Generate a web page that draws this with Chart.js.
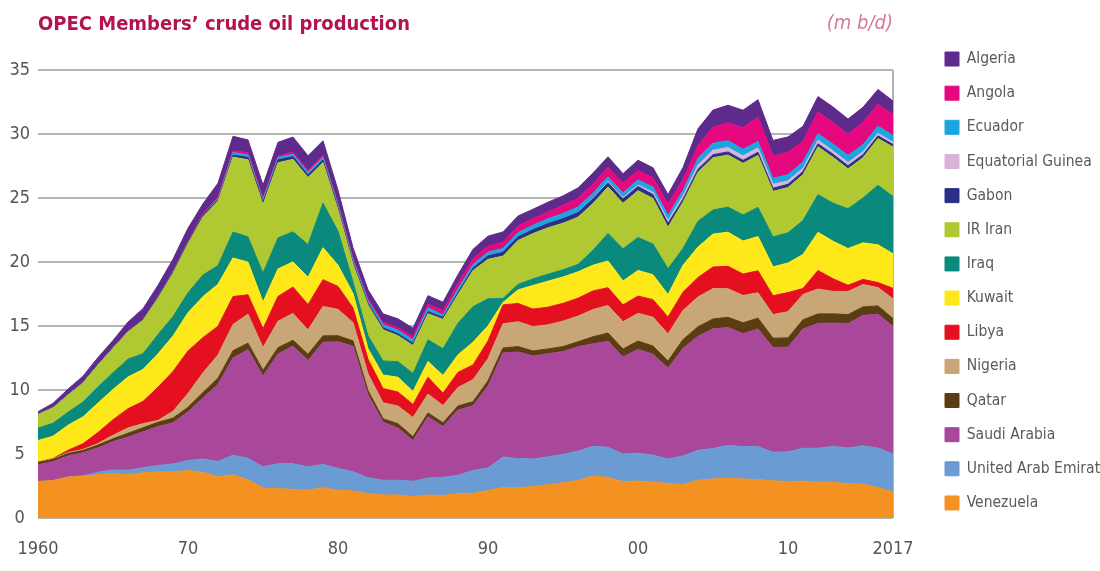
<!DOCTYPE html>
<html>
<head>
<meta charset="utf-8">
<script src="https://cdn.jsdelivr.net/npm/chart.js@4.4.1/dist/chart.umd.min.js"></script>
<style>
  html, body { margin: 0; padding: 0; background: #fff; overflow: hidden; }
  #wrap { position: relative; width: 1100px; height: 571px; }
</style>
</head>
<body>
<div id="wrap"><canvas id="chart"></canvas></div>
<script>
// ---------- DATA (m b/d) ----------
const years = [1960,1961,1962,1963,1964,1965,1966,1967,1968,1969,
               1970,1971,1972,1973,1974,1975,1976,1977,1978,1979,
               1980,1981,1982,1983,1984,1985,1986,1987,1988,1989,
               1990,1991,1992,1993,1994,1995,1996,1997,1998,1999,
               2000,2001,2002,2003,2004,2005,2006,2007,2008,2009,
               2010,2011,2012,2013,2014,2015,2016,2017];

const xTickYears = [1960, 1970, 1980, 1990, 2000, 2010, 2017];
const yTickValues = [0, 5, 10, 15, 20, 25, 30, 35];

const venezuela = [2.85,2.92,3.20,3.25,3.39,3.47,3.37,3.54,3.60,3.59,
                   3.71,3.55,3.22,3.37,2.98,2.35,2.29,2.24,2.17,2.36,
                   2.17,2.11,1.90,1.80,1.80,1.68,1.79,1.75,1.90,1.91,
                   2.14,2.38,2.37,2.45,2.59,2.75,2.94,3.28,3.17,2.83,
                   2.89,2.79,2.70,2.60,2.95,3.05,3.10,3.05,3.00,2.90,
                   2.85,2.88,2.80,2.79,2.68,2.65,2.37,2.04];
const uae = [0.00,0.00,0.01,0.05,0.19,0.28,0.36,0.38,0.50,0.63,
             0.78,1.06,1.20,1.53,1.68,1.66,1.94,2.00,1.83,1.83,
             1.70,1.50,1.25,1.15,1.15,1.19,1.33,1.42,1.44,1.80,
             1.76,2.39,2.27,2.16,2.19,2.23,2.28,2.32,2.35,2.17,
             2.18,2.12,1.90,2.25,2.34,2.38,2.57,2.53,2.57,2.24,
             2.32,2.57,2.65,2.80,2.79,2.99,3.09,2.97];
const saudiArabia = [1.31,1.48,1.64,1.79,1.90,2.21,2.60,2.81,3.04,3.22,
                     3.80,4.77,6.02,7.60,8.48,7.08,8.58,9.20,8.30,9.53,
                     9.90,9.81,6.48,4.54,4.08,3.18,4.78,3.98,5.09,5.06,
                     6.41,8.12,8.33,8.05,8.05,8.02,8.16,8.01,8.28,7.57,
                     8.10,7.89,7.09,8.41,8.90,9.35,9.21,8.82,9.20,8.18,
                     8.17,9.31,9.76,9.64,9.71,10.19,10.46,9.96];
const qatar = [0.18,0.18,0.19,0.19,0.22,0.23,0.29,0.32,0.34,0.36,
               0.36,0.43,0.48,0.57,0.52,0.44,0.50,0.45,0.49,0.51,
               0.47,0.42,0.33,0.27,0.33,0.30,0.31,0.29,0.32,0.32,
               0.41,0.39,0.42,0.39,0.38,0.39,0.39,0.55,0.65,0.63,
               0.65,0.63,0.57,0.68,0.75,0.77,0.80,0.85,0.84,0.73,
               0.73,0.73,0.73,0.72,0.71,0.66,0.65,0.61];
const nigeria = [0.02,0.05,0.07,0.08,0.12,0.27,0.42,0.32,0.14,0.54,
                 1.08,1.53,1.82,2.05,2.26,1.78,2.07,2.09,1.90,2.30,
                 2.06,1.43,1.30,1.24,1.39,1.50,1.47,1.34,1.45,1.72,
                 1.73,1.89,1.94,1.91,1.88,1.99,2.00,2.13,2.15,2.13,
                 2.17,2.26,2.12,2.28,2.33,2.37,2.23,2.14,1.98,1.84,
                 2.05,1.98,1.95,1.75,1.81,1.75,1.43,1.54];
const libya = [0.00,0.02,0.18,0.44,0.86,1.22,1.50,1.74,2.60,3.11,
               3.32,2.76,2.24,2.18,1.52,1.48,1.93,2.06,1.98,2.09,
               1.79,1.14,1.15,1.11,1.09,1.02,1.31,0.97,1.18,1.15,
               1.38,1.48,1.43,1.36,1.38,1.39,1.40,1.45,1.39,1.32,
               1.35,1.37,1.32,1.42,1.52,1.69,1.75,1.67,1.72,1.47,
               1.49,0.46,1.45,0.99,0.48,0.40,0.39,0.82];
const kuwait = [1.69,1.74,1.96,2.10,2.30,2.36,2.48,2.50,2.61,2.77,
                2.99,3.20,3.28,3.02,2.55,2.08,2.15,1.97,2.13,2.50,
                1.66,1.13,0.82,1.06,1.16,1.02,1.24,1.39,1.37,1.78,
                1.18,0.19,1.06,1.85,2.03,2.06,2.06,2.01,2.09,1.87,
                2.00,1.95,1.75,2.11,2.38,2.57,2.67,2.58,2.68,2.26,
                2.31,2.66,2.98,2.93,2.87,2.86,2.95,2.70];
const iraq = [0.97,1.01,1.01,1.16,1.26,1.31,1.39,1.23,1.50,1.52,
              1.55,1.69,1.47,2.02,1.97,2.26,2.42,2.35,2.56,3.48,
              2.65,0.90,1.01,1.10,1.21,1.40,1.69,2.08,2.46,2.78,
              2.11,0.31,0.43,0.51,0.55,0.56,0.58,1.16,2.15,2.51,
              2.57,2.39,2.02,1.31,2.01,1.88,1.96,2.04,2.28,2.34,
              2.36,2.65,2.94,2.98,3.11,3.50,4.65,4.47];
const iran = [1.07,1.20,1.34,1.49,1.71,1.91,2.13,2.60,2.84,3.38,
              3.83,4.54,5.02,5.86,6.02,5.35,5.88,5.66,5.24,3.17,
              1.66,1.38,2.39,2.44,2.03,2.19,2.04,2.30,2.24,2.81,
              3.09,3.31,3.43,3.54,3.62,3.64,3.69,3.66,3.63,3.56,
              3.66,3.57,3.25,3.61,3.83,4.09,4.07,4.03,4.06,3.56,
              3.54,3.58,3.74,3.58,3.12,3.15,3.65,3.87];
const gabon = [0.02,0.02,0.02,0.02,0.02,0.03,0.03,0.07,0.09,0.10,
               0.11,0.12,0.13,0.15,0.20,0.22,0.22,0.22,0.21,0.20,
               0.18,0.15,0.16,0.16,0.16,0.17,0.17,0.16,0.16,0.20,
               0.27,0.30,0.29,0.31,0.34,0.36,0.37,0.37,0.34,0.34,
               0.33,0.30,0.30,0.24,0.24,0.23,0.24,0.23,0.24,0.24,
               0.25,0.25,0.24,0.24,0.24,0.23,0.22,0.20];
const equatorialGuinea = [0,0,0,0,0,0,0,0,0,0,
                          0,0,0,0,0,0,0,0,0,0,
                          0,0,0,0,0,0,0,0,0,0,
                          0.00,0.00,0.001,0.005,0.005,0.005,0.02,0.06,0.08,0.10,
                          0.11,0.18,0.23,0.26,0.33,0.36,0.34,0.35,0.35,0.31,
                          0.27,0.25,0.28,0.26,0.25,0.24,0.20,0.18];
const ecuador = [0.008,0.008,0.007,0.007,0.008,0.008,0.007,0.006,0.005,0.004,
                 0.004,0.004,0.08,0.21,0.18,0.16,0.19,0.18,0.20,0.21,
                 0.20,0.21,0.20,0.24,0.26,0.28,0.29,0.17,0.30,0.28,
                 0.29,0.30,0.32,0.34,0.37,0.39,0.40,0.39,0.38,0.37,
                 0.40,0.41,0.39,0.41,0.53,0.53,0.54,0.51,0.50,0.47,
                 0.48,0.50,0.50,0.53,0.56,0.54,0.55,0.53];
const angola = [0.001,0.001,0.002,0.005,0.006,0.013,0.013,0.011,0.015,0.05,
                0.08,0.11,0.14,0.16,0.17,0.17,0.10,0.19,0.13,0.14,
                0.15,0.13,0.13,0.18,0.20,0.23,0.28,0.36,0.45,0.45,
                0.47,0.49,0.54,0.50,0.54,0.63,0.69,0.71,0.73,0.75,
                0.74,0.73,0.90,0.87,0.99,1.25,1.40,1.69,1.90,1.74,
                1.76,1.62,1.70,1.70,1.65,1.77,1.72,1.63];
const algeria = [0.18,0.33,0.44,0.50,0.56,0.56,0.72,0.83,0.90,0.95,
                 1.03,0.79,1.06,1.10,1.01,0.98,1.08,1.15,1.16,1.15,
                 1.02,0.81,0.71,0.66,0.70,0.67,0.67,0.65,0.65,0.73,
                 0.78,0.80,0.76,0.75,0.75,0.75,0.81,0.85,0.83,0.75,
                 0.80,0.77,0.73,0.94,1.31,1.35,1.37,1.37,1.36,1.22,
                 1.19,1.16,1.20,1.20,1.19,1.16,1.15,1.06];

// Stack order: bottom -> top
const seriesLabels = ['Venezuela','United Arab Emirates','Saudi Arabia','Qatar','Nigeria','Libya',
                      'Kuwait','Iraq','IR Iran','Gabon','Equatorial Guinea','Ecuador','Angola','Algeria'];
const seriesValues = [venezuela, uae, saudiArabia, qatar, nigeria, libya,
                      kuwait, iraq, iran, gabon, equatorialGuinea, ecuador, angola, algeria];

// ---------- STYLE ----------
const seriesColors = ['#f39220','#6a9bd2','#a9479b','#5a3d12','#c9a676','#e4101f',
                      '#ffe81a','#0a8a7c','#b0c932','#28308a','#d9b3d9','#1aa6e0','#e5087f','#5e2a8c'];
const FONT = '"DejaVu Sans Condensed", "Liberation Sans Narrow", sans-serif';
const AXIS_GREY = '#555555';
const LEGEND_GREY = '#5a5a5a';
const GRID_GREY = '#b4b4b4';

const datasets = seriesLabels.map((label, i) => ({
  label,
  data: years.map((yr, j) => ({ x: yr, y: seriesValues[i][j] })),
  backgroundColor: seriesColors[i],
  borderColor: seriesColors[i],
  borderWidth: 1,
  pointRadius: 0,
  pointHoverRadius: 0,
  tension: 0,
  fill: i === 0 ? 'origin' : '-1'
}));

const unitLabel = {
  id: 'unitLabel',
  afterDraw(chart) {
    const { ctx, chartArea } = chart;
    ctx.save();
    ctx.font = 'italic 20px ' + FONT;
    ctx.fillStyle = '#d2789f';
    ctx.textAlign = 'right';
    ctx.textBaseline = 'middle';
    ctx.fillText('(m b/d)', chartArea.right, 24);
    ctx.restore();
  }
};

const legendPlacement = {
  id: 'legendPlacement',
  afterLayout(chart) {
    const lg = chart.legend;
    if (!lg) return;
    const pad = lg.options.labels.padding;
    const dx = (chart.chartArea.right + 52 - pad) - lg.left;
    const dy = -4.5;
    lg.left += dx; lg.right += dx;
    lg.top += dy; lg.bottom += dy;
  }
};

new Chart(document.getElementById('chart'), {
  type: 'line',
  data: { datasets },
  plugins: [unitLabel, legendPlacement],
  options: {
    responsive: true,
    maintainAspectRatio: false,
    animation: false,
    devicePixelRatio: 1,
    events: [],
    layout: { padding: 0 },
    plugins: {
      tooltip: { enabled: false },
      title: {
        display: true,
        text: "OPEC Members\u2019 crude oil production",
        align: 'start',
        fullSize: false,
        color: '#b3134f',
        font: { family: FONT, size: 20, weight: 'bold' },
        padding: { top: 13, bottom: 33 }
      },
      legend: {
        display: true,
        position: 'right',
        align: 'center',
        reverse: true,
        maxWidth: 200,
        labels: {
          boxWidth: 14,
          boxHeight: 14,
          padding: 18.65,
          color: LEGEND_GREY,
          font: { family: FONT, size: 15.5 }
        }
      }
    },
    scales: {
      x: {
        type: 'linear',
        min: 1960,
        max: 2017,
        afterBuildTicks: s => { s.ticks = xTickYears.map(v => ({ value: v })); },
        afterFit: s => { s.height = 53; s.paddingRight = 207; s.paddingLeft = 0; },
        ticks: {
          autoSkip: false,
          maxRotation: 0,
          padding: 21,
          color: AXIS_GREY,
          font: { family: FONT, size: 18 },
          callback: v => (v === 1960 || v === 2017) ? String(v) : String(v).slice(2)
        },
        grid: {
          drawTicks: false,
          lineWidth: 2,
          color: c => (c.tick && c.tick.value === 2017) ? GRID_GREY : 'rgba(0,0,0,0)'
        },
        border: { display: false }
      },
      y: {
        stacked: true,
        min: 0,
        max: 35,
        afterBuildTicks: s => { s.ticks = yTickValues.map(v => ({ value: v })); },
        afterFit: s => { s.width = 38; },
        ticks: {
          padding: 8,
          crossAlign: 'center',
          color: AXIS_GREY,
          font: { family: FONT, size: 18 }
        },
        grid: { drawTicks: false, lineWidth: 2, color: GRID_GREY },
        border: { display: false }
      }
    }
  }
});
</script>
</body>
</html>
